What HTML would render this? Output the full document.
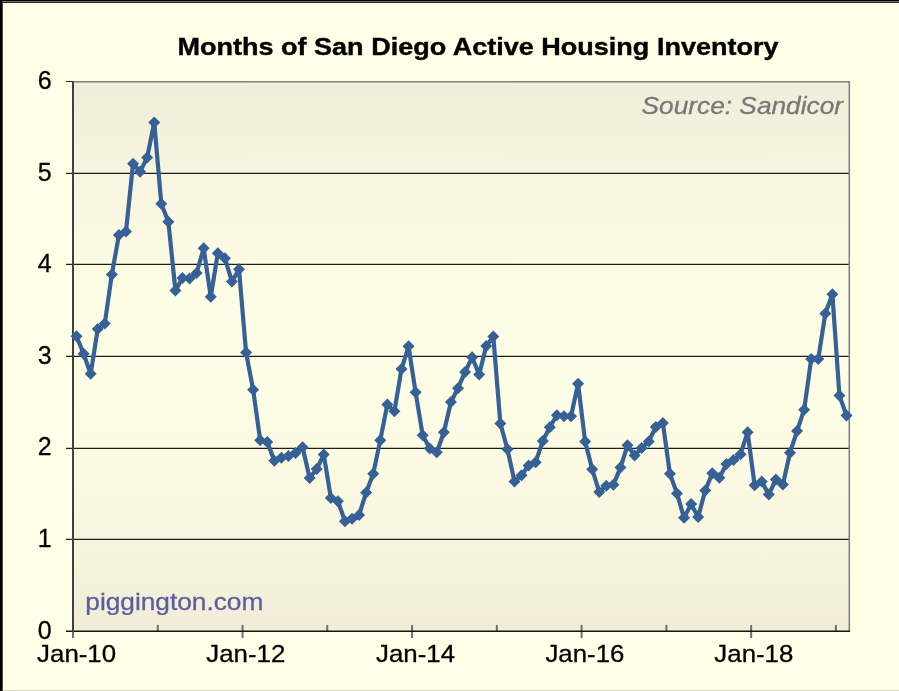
<!DOCTYPE html>
<html><head><meta charset="utf-8"><style>
html,body{margin:0;padding:0;width:899px;height:691px;overflow:hidden;background:#FFFFE8;}
svg{display:block;}
text{will-change:transform;}
text{font-family:"Liberation Sans",sans-serif;}
</style></head><body>
<svg width="899" height="691" viewBox="0 0 899 691">
<defs>
<linearGradient id="pg" x1="0" y1="0" x2="0" y2="1">
<stop offset="0" stop-color="#F2EDD8"/>
<stop offset="0.1" stop-color="#F5F1DC"/>
<stop offset="0.2" stop-color="#F8F6E0"/>
<stop offset="0.38" stop-color="#FDFCE4"/>
<stop offset="0.58" stop-color="#FDFCE4"/>
<stop offset="0.725" stop-color="#FBF9E2"/>
<stop offset="0.87" stop-color="#F6F3DD"/>
<stop offset="1" stop-color="#F2ECD7"/>
</linearGradient>
</defs>
<rect x="0" y="0" width="899" height="691" fill="#FFFFE8"/>
<!-- outer frame -->
<rect x="0" y="690" width="899" height="1" fill="#D3D2BD"/>
<rect x="0" y="0" width="899" height="1" fill="#000"/>
<rect x="0" y="1" width="899" height="1" fill="#70706A"/>
<rect x="0" y="2" width="899" height="1" fill="#26261F"/>
<rect x="0" y="0" width="2" height="691" fill="#000"/>
<rect x="2" y="1" width="1" height="690" fill="#4A4A42"/>
<!-- plot area -->
<rect x="73" y="82" width="777" height="549" fill="url(#pg)"/>
<g stroke="#1e1e1a" stroke-width="1.2"><line x1="66" y1="539.40" x2="850" y2="539.40" /><line x1="66" y1="448.40" x2="850" y2="448.40" /><line x1="66" y1="356.40" x2="850" y2="356.40" /><line x1="66" y1="264.40" x2="850" y2="264.40" /><line x1="66" y1="173.40" x2="850" y2="173.40" /></g>
<line x1="66" y1="81.5" x2="73" y2="81.5" stroke="#1a1a1a" stroke-width="1"/>
<path d="M73 81.7H849.3V631" fill="none" stroke="#808080" stroke-width="1.6"/>
<g stroke="#6e6e6e" stroke-width="2"><line x1="73.00" y1="625" x2="73.00" y2="638" /><line x1="157.77" y1="625" x2="157.77" y2="631" /><line x1="242.54" y1="625" x2="242.54" y2="638" /><line x1="327.30" y1="625" x2="327.30" y2="631" /><line x1="412.07" y1="625" x2="412.07" y2="638" /><line x1="496.84" y1="625" x2="496.84" y2="631" /><line x1="581.61" y1="625" x2="581.61" y2="638" /><line x1="666.38" y1="625" x2="666.38" y2="631" /><line x1="751.14" y1="625" x2="751.14" y2="638" /><line x1="835.91" y1="625" x2="835.91" y2="631" /></g>
<line x1="66" y1="631.2" x2="850" y2="631.2" stroke="#141414" stroke-width="1.5"/>
<line x1="73" y1="81" x2="73" y2="632" stroke="#404040" stroke-width="2"/>
<!-- series -->
<polyline points="76.53,336.33 83.60,353.72 90.66,373.84 97.72,329.02 104.79,323.53 111.85,274.40 118.92,235.07 125.98,231.50 133.04,163.71 140.11,171.76 147.17,157.40 154.24,122.45 161.30,203.78 168.36,221.71 175.43,290.50 182.49,278.06 189.56,278.61 196.62,273.03 203.68,248.33 210.75,296.82 217.81,253.18 224.88,258.21 231.94,281.54 239.00,269.37 246.07,352.53 253.13,389.76 260.20,440.16 267.26,441.99 274.32,460.84 281.39,457.82 288.45,455.99 295.52,452.97 302.58,447.30 309.64,477.95 316.71,468.98 323.77,454.53 330.84,497.89 337.90,501.18 344.96,521.31 352.03,518.84 359.09,515.09 366.16,492.40 373.22,473.83 380.28,440.16 387.35,404.40 394.41,411.35 401.48,369.08 408.54,346.31 415.60,392.23 422.67,435.13 429.73,448.58 436.80,452.33 443.86,432.21 450.92,402.02 457.99,388.20 465.05,372.10 472.12,357.28 479.18,374.57 486.24,346.03 493.31,336.52 500.37,423.42 507.44,449.22 514.50,481.42 521.56,475.20 528.63,465.41 535.69,462.21 542.76,440.99 549.82,427.17 556.88,415.28 563.95,416.29 571.01,416.29 578.08,383.81 585.14,441.54 592.20,469.25 599.27,492.03 606.33,485.81 613.40,484.71 620.46,467.61 627.52,445.29 634.59,455.44 641.65,447.94 648.72,441.54 655.78,426.99 662.84,422.97 669.91,473.65 676.97,493.41 684.04,517.83 691.10,503.93 698.16,517.01 705.23,490.57 712.29,473.19 719.36,477.85 726.42,463.95 733.48,460.02 740.55,454.16 747.61,432.21 754.68,485.36 761.74,481.51 768.80,494.50 775.87,479.50 782.93,484.44 790.00,452.70 797.06,431.11 804.12,409.70 811.19,359.11 818.25,359.11 825.32,313.46 832.38,294.16 839.44,395.61 846.51,415.46" fill="none" stroke="#366196" stroke-width="4.2" stroke-linejoin="round"/>
<path d="M76.53 330.33L82.53 336.33L76.53 342.33L70.53 336.33ZM83.60 347.72L89.60 353.72L83.60 359.72L77.60 353.72ZM90.66 367.84L96.66 373.84L90.66 379.84L84.66 373.84ZM97.72 323.02L103.72 329.02L97.72 335.02L91.72 329.02ZM104.79 317.53L110.79 323.53L104.79 329.53L98.79 323.53ZM111.85 268.40L117.85 274.40L111.85 280.40L105.85 274.40ZM118.92 229.07L124.92 235.07L118.92 241.07L112.92 235.07ZM125.98 225.50L131.98 231.50L125.98 237.50L119.98 231.50ZM133.04 157.71L139.04 163.71L133.04 169.71L127.04 163.71ZM140.11 165.76L146.11 171.76L140.11 177.76L134.11 171.76ZM147.17 151.40L153.17 157.40L147.17 163.40L141.17 157.40ZM154.24 116.45L160.24 122.45L154.24 128.45L148.24 122.45ZM161.30 197.78L167.30 203.78L161.30 209.78L155.30 203.78ZM168.36 215.71L174.36 221.71L168.36 227.71L162.36 221.71ZM175.43 284.50L181.43 290.50L175.43 296.50L169.43 290.50ZM182.49 272.06L188.49 278.06L182.49 284.06L176.49 278.06ZM189.56 272.61L195.56 278.61L189.56 284.61L183.56 278.61ZM196.62 267.03L202.62 273.03L196.62 279.03L190.62 273.03ZM203.68 242.33L209.68 248.33L203.68 254.33L197.68 248.33ZM210.75 290.82L216.75 296.82L210.75 302.82L204.75 296.82ZM217.81 247.18L223.81 253.18L217.81 259.18L211.81 253.18ZM224.88 252.21L230.88 258.21L224.88 264.21L218.88 258.21ZM231.94 275.54L237.94 281.54L231.94 287.54L225.94 281.54ZM239.00 263.37L245.00 269.37L239.00 275.37L233.00 269.37ZM246.07 346.53L252.07 352.53L246.07 358.53L240.07 352.53ZM253.13 383.76L259.13 389.76L253.13 395.76L247.13 389.76ZM260.20 434.16L266.20 440.16L260.20 446.16L254.20 440.16ZM267.26 435.99L273.26 441.99L267.26 447.99L261.26 441.99ZM274.32 454.84L280.32 460.84L274.32 466.84L268.32 460.84ZM281.39 451.82L287.39 457.82L281.39 463.82L275.39 457.82ZM288.45 449.99L294.45 455.99L288.45 461.99L282.45 455.99ZM295.52 446.97L301.52 452.97L295.52 458.97L289.52 452.97ZM302.58 441.30L308.58 447.30L302.58 453.30L296.58 447.30ZM309.64 471.95L315.64 477.95L309.64 483.95L303.64 477.95ZM316.71 462.98L322.71 468.98L316.71 474.98L310.71 468.98ZM323.77 448.53L329.77 454.53L323.77 460.53L317.77 454.53ZM330.84 491.89L336.84 497.89L330.84 503.89L324.84 497.89ZM337.90 495.18L343.90 501.18L337.90 507.18L331.90 501.18ZM344.96 515.31L350.96 521.31L344.96 527.31L338.96 521.31ZM352.03 512.84L358.03 518.84L352.03 524.84L346.03 518.84ZM359.09 509.09L365.09 515.09L359.09 521.09L353.09 515.09ZM366.16 486.40L372.16 492.40L366.16 498.40L360.16 492.40ZM373.22 467.83L379.22 473.83L373.22 479.83L367.22 473.83ZM380.28 434.16L386.28 440.16L380.28 446.16L374.28 440.16ZM387.35 398.40L393.35 404.40L387.35 410.40L381.35 404.40ZM394.41 405.35L400.41 411.35L394.41 417.35L388.41 411.35ZM401.48 363.08L407.48 369.08L401.48 375.08L395.48 369.08ZM408.54 340.31L414.54 346.31L408.54 352.31L402.54 346.31ZM415.60 386.23L421.60 392.23L415.60 398.23L409.60 392.23ZM422.67 429.13L428.67 435.13L422.67 441.13L416.67 435.13ZM429.73 442.58L435.73 448.58L429.73 454.58L423.73 448.58ZM436.80 446.33L442.80 452.33L436.80 458.33L430.80 452.33ZM443.86 426.21L449.86 432.21L443.86 438.21L437.86 432.21ZM450.92 396.02L456.92 402.02L450.92 408.02L444.92 402.02ZM457.99 382.20L463.99 388.20L457.99 394.20L451.99 388.20ZM465.05 366.10L471.05 372.10L465.05 378.10L459.05 372.10ZM472.12 351.28L478.12 357.28L472.12 363.28L466.12 357.28ZM479.18 368.57L485.18 374.57L479.18 380.57L473.18 374.57ZM486.24 340.03L492.24 346.03L486.24 352.03L480.24 346.03ZM493.31 330.52L499.31 336.52L493.31 342.52L487.31 336.52ZM500.37 417.42L506.37 423.42L500.37 429.42L494.37 423.42ZM507.44 443.22L513.44 449.22L507.44 455.22L501.44 449.22ZM514.50 475.42L520.50 481.42L514.50 487.42L508.50 481.42ZM521.56 469.20L527.56 475.20L521.56 481.20L515.56 475.20ZM528.63 459.41L534.63 465.41L528.63 471.41L522.63 465.41ZM535.69 456.21L541.69 462.21L535.69 468.21L529.69 462.21ZM542.76 434.99L548.76 440.99L542.76 446.99L536.76 440.99ZM549.82 421.17L555.82 427.17L549.82 433.17L543.82 427.17ZM556.88 409.28L562.88 415.28L556.88 421.28L550.88 415.28ZM563.95 410.29L569.95 416.29L563.95 422.29L557.95 416.29ZM571.01 410.29L577.01 416.29L571.01 422.29L565.01 416.29ZM578.08 377.81L584.08 383.81L578.08 389.81L572.08 383.81ZM585.14 435.54L591.14 441.54L585.14 447.54L579.14 441.54ZM592.20 463.25L598.20 469.25L592.20 475.25L586.20 469.25ZM599.27 486.03L605.27 492.03L599.27 498.03L593.27 492.03ZM606.33 479.81L612.33 485.81L606.33 491.81L600.33 485.81ZM613.40 478.71L619.40 484.71L613.40 490.71L607.40 484.71ZM620.46 461.61L626.46 467.61L620.46 473.61L614.46 467.61ZM627.52 439.29L633.52 445.29L627.52 451.29L621.52 445.29ZM634.59 449.44L640.59 455.44L634.59 461.44L628.59 455.44ZM641.65 441.94L647.65 447.94L641.65 453.94L635.65 447.94ZM648.72 435.54L654.72 441.54L648.72 447.54L642.72 441.54ZM655.78 420.99L661.78 426.99L655.78 432.99L649.78 426.99ZM662.84 416.97L668.84 422.97L662.84 428.97L656.84 422.97ZM669.91 467.65L675.91 473.65L669.91 479.65L663.91 473.65ZM676.97 487.41L682.97 493.41L676.97 499.41L670.97 493.41ZM684.04 511.83L690.04 517.83L684.04 523.83L678.04 517.83ZM691.10 497.93L697.10 503.93L691.10 509.93L685.10 503.93ZM698.16 511.01L704.16 517.01L698.16 523.01L692.16 517.01ZM705.23 484.57L711.23 490.57L705.23 496.57L699.23 490.57ZM712.29 467.19L718.29 473.19L712.29 479.19L706.29 473.19ZM719.36 471.85L725.36 477.85L719.36 483.85L713.36 477.85ZM726.42 457.95L732.42 463.95L726.42 469.95L720.42 463.95ZM733.48 454.02L739.48 460.02L733.48 466.02L727.48 460.02ZM740.55 448.16L746.55 454.16L740.55 460.16L734.55 454.16ZM747.61 426.21L753.61 432.21L747.61 438.21L741.61 432.21ZM754.68 479.36L760.68 485.36L754.68 491.36L748.68 485.36ZM761.74 475.51L767.74 481.51L761.74 487.51L755.74 481.51ZM768.80 488.50L774.80 494.50L768.80 500.50L762.80 494.50ZM775.87 473.50L781.87 479.50L775.87 485.50L769.87 479.50ZM782.93 478.44L788.93 484.44L782.93 490.44L776.93 484.44ZM790.00 446.70L796.00 452.70L790.00 458.70L784.00 452.70ZM797.06 425.11L803.06 431.11L797.06 437.11L791.06 431.11ZM804.12 403.70L810.12 409.70L804.12 415.70L798.12 409.70ZM811.19 353.11L817.19 359.11L811.19 365.11L805.19 359.11ZM818.25 353.11L824.25 359.11L818.25 365.11L812.25 359.11ZM825.32 307.46L831.32 313.46L825.32 319.46L819.32 313.46ZM832.38 288.16L838.38 294.16L832.38 300.16L826.38 294.16ZM839.44 389.61L845.44 395.61L839.44 401.61L833.44 395.61ZM846.51 409.46L852.51 415.46L846.51 421.46L840.51 415.46Z" fill="#366196"/>
<!-- texts -->
<text x="478" y="55" text-anchor="middle" font-weight="bold" font-size="24.5" textLength="601" lengthAdjust="spacingAndGlyphs" fill="#000" stroke="#000" stroke-width="0.4">Months of San Diego Active Housing Inventory</text>
<g font-size="25" fill="#000" stroke="#000" stroke-width="0.3"><text x="51.6" y="639.0" text-anchor="end">0</text><text x="51.6" y="546.9" text-anchor="end">1</text><text x="51.6" y="454.7" text-anchor="end">2</text><text x="51.6" y="363.5" text-anchor="end">3</text><text x="51.6" y="271.9" text-anchor="end">4</text><text x="51.6" y="180.8" text-anchor="end">5</text><text x="51.6" y="88.8" text-anchor="end">6</text></g>
<g font-size="24" fill="#000" stroke="#000" stroke-width="0.3"><text x="76.60" y="662" text-anchor="middle" textLength="79" lengthAdjust="spacingAndGlyphs">Jan-10</text><text x="245.80" y="662" text-anchor="middle" textLength="79" lengthAdjust="spacingAndGlyphs">Jan-12</text><text x="415.55" y="662" text-anchor="middle" textLength="79" lengthAdjust="spacingAndGlyphs">Jan-14</text><text x="584.95" y="662" text-anchor="middle" textLength="79" lengthAdjust="spacingAndGlyphs">Jan-16</text><text x="753.85" y="662" text-anchor="middle" textLength="79" lengthAdjust="spacingAndGlyphs">Jan-18</text></g>
<text x="843" y="113.5" text-anchor="end" font-style="italic" font-size="24" fill="#787878" stroke="#787878" stroke-width="0.3" textLength="201.4" lengthAdjust="spacingAndGlyphs">Source: Sandicor</text>
<text x="85.3" y="609.5" font-size="24" fill="#5B5D9F" stroke="#5B5D9F" stroke-width="0.3" textLength="178" lengthAdjust="spacingAndGlyphs">piggington.com</text>
</svg>
</body></html>
